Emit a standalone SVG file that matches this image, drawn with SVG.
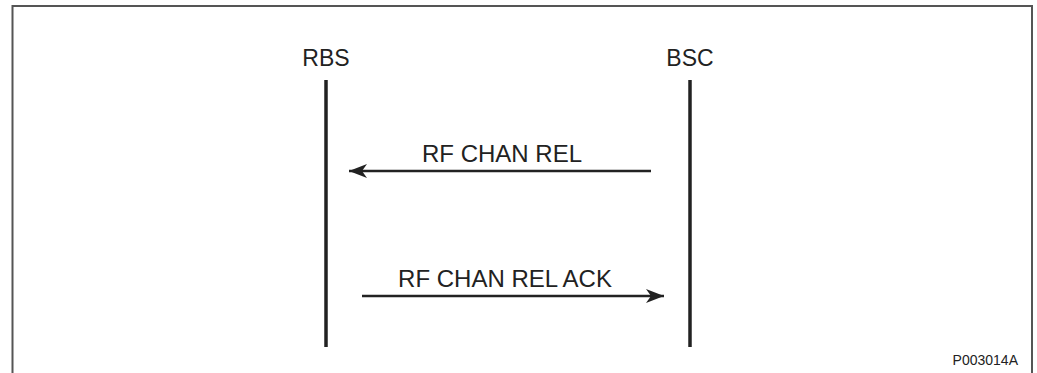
<svg xmlns="http://www.w3.org/2000/svg" width="1037" height="373" viewBox="0 0 1037 373">
<style>
.lbl{font-family:"Liberation Sans",Arial,sans-serif;font-size:23px;fill:#222;text-anchor:middle}
.mlbl{font-size:24px}
.life{stroke:#222;stroke-width:3.5}
.msg{stroke:#222;stroke-width:2.5;fill:none}
.frame{stroke:#555;stroke-width:2;fill:none}
</style>
<defs>
<marker id="ah" markerUnits="userSpaceOnUse" viewBox="-20 -10 22 20" refX="0" refY="0" markerWidth="22" markerHeight="20" orient="auto">
<path d="M0,0 L-18,-7 L-13,0 L-18,7 Z" fill="#222"/>
</marker>
</defs>
<rect width="1037" height="373" fill="#fff"/>
<path class="frame" d="M12.5,373 V6 H1032 V373"/>
<g id="rbs">
<text class="lbl" x="326" y="66">RBS</text>
<line class="life" x1="326" y1="80" x2="326" y2="347"/>
</g>
<g id="bsc">
<text class="lbl" x="690" y="66">BSC</text>
<line class="life" x1="690" y1="80" x2="690" y2="347"/>
</g>
<g id="connectors">
<line class="msg" x1="651" y1="171" x2="349" y2="171" marker-end="url(#ah)"/>
<text class="lbl mlbl" x="502" y="162">RF CHAN REL</text>
<line class="msg" x1="362" y1="296" x2="664" y2="296" marker-end="url(#ah)"/>
<text class="lbl mlbl" x="505" y="287">RF CHAN REL ACK</text>
</g>
<text x="1018" y="365" style="font-family:'Liberation Sans',Arial,sans-serif;font-size:14px;fill:#222;text-anchor:end">P003014A</text>
</svg>
